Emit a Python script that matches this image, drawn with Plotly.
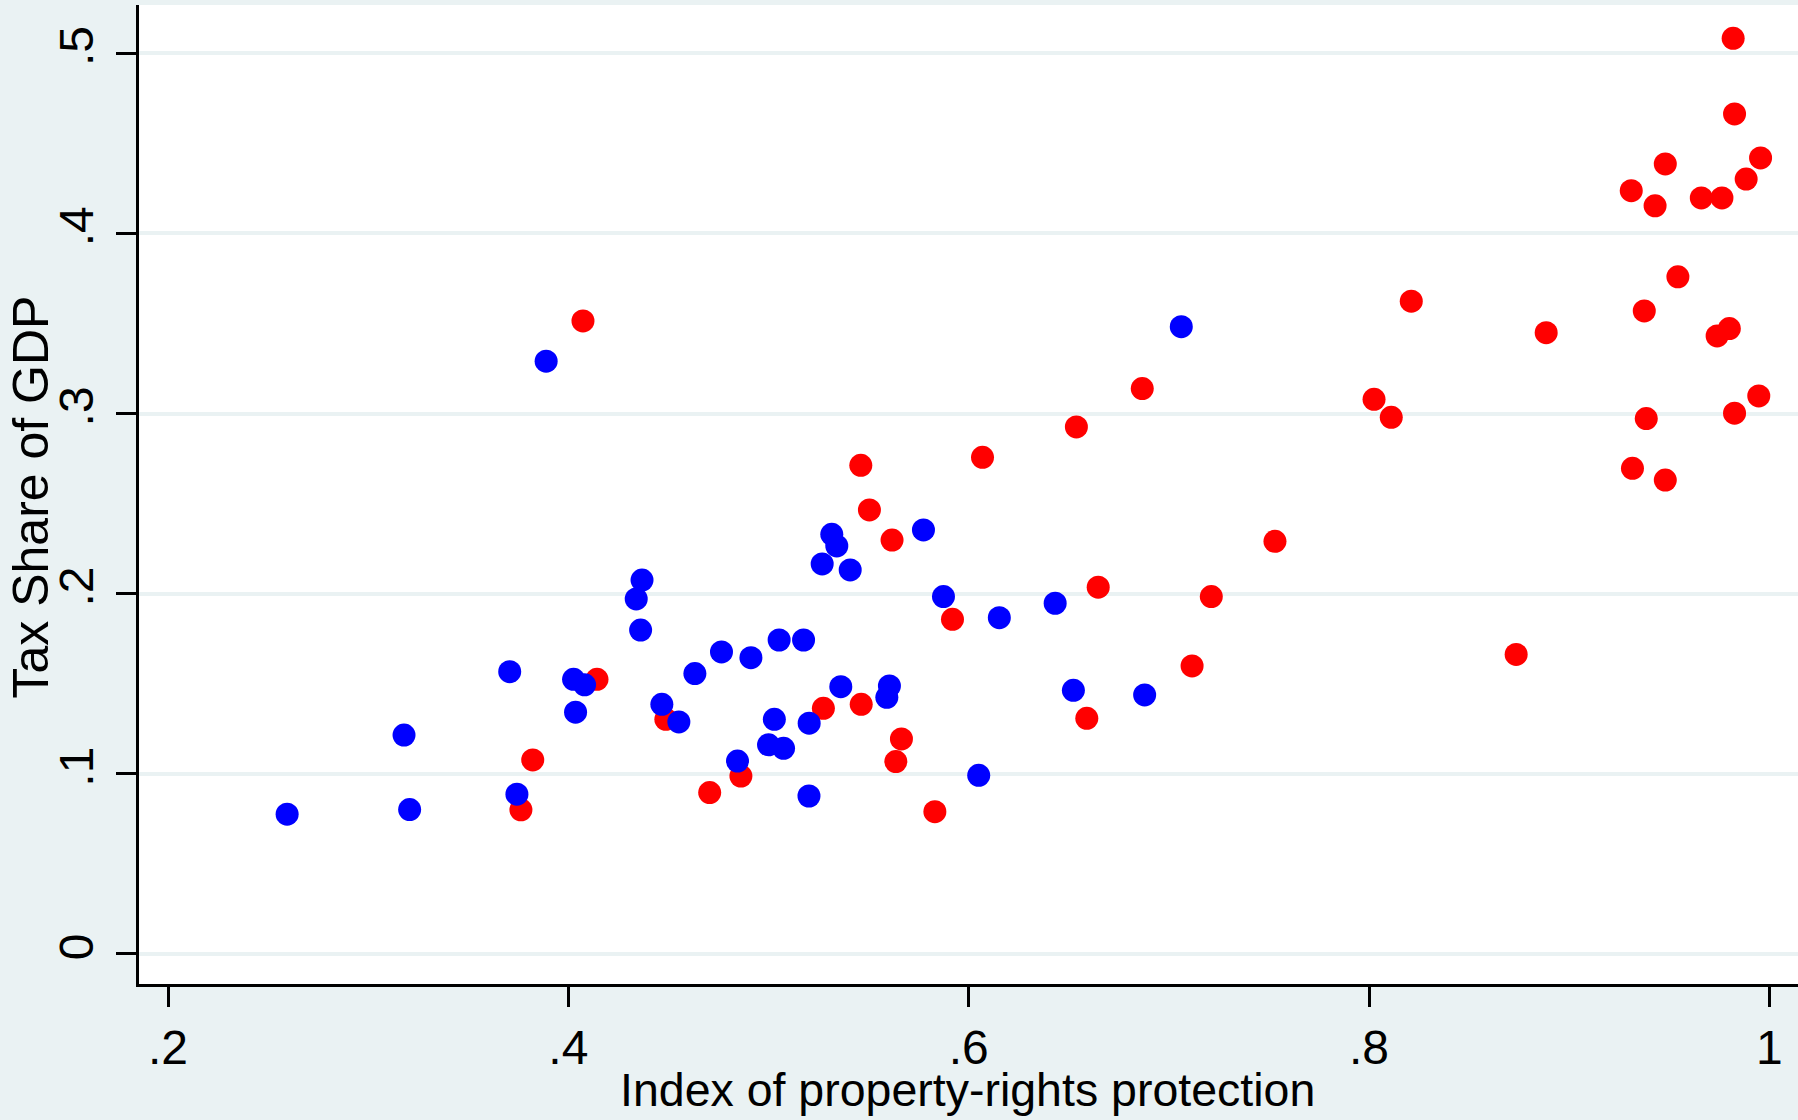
import plotly.graph_objects as go

# Data
blue_x = [0.2595, 0.3179, 0.3207, 0.3707, 0.3743, 0.3889, 0.4026, 0.4036, 0.4081, 0.4339,
          0.4368, 0.4361, 0.4467, 0.4552, 0.4632, 0.4765, 0.4845, 0.4912, 0.5000, 0.5029,
          0.5053, 0.5075, 0.5175, 0.5202, 0.5203, 0.5268, 0.5316, 0.5341, 0.5361, 0.5408,
          0.5591, 0.5604, 0.5774, 0.5874, 0.6050, 0.6153, 0.6432, 0.6523, 0.6879, 0.7062]
blue_y = [0.0776, 0.1215, 0.0802, 0.1567, 0.0887, 0.3291, 0.1525, 0.1342, 0.1494, 0.1971,
          0.2076, 0.1798, 0.1386, 0.1288, 0.1557, 0.1677, 0.1071, 0.1645, 0.1161, 0.1303,
          0.1743, 0.1142, 0.1743, 0.0877, 0.1281, 0.2165, 0.2330, 0.2265, 0.1484, 0.2132,
          0.1425, 0.1488, 0.2354, 0.1984, 0.0992, 0.1867, 0.1947, 0.1464, 0.1438, 0.3482]

red_x = [0.3763, 0.3822, 0.4073, 0.4143, 0.4487, 0.4706, 0.4862, 0.5274, 0.5461, 0.5463,
         0.5504, 0.5617, 0.5636, 0.5664, 0.5831, 0.5919, 0.6069, 0.6538, 0.6590, 0.6647,
         0.6867, 0.7116, 0.7212, 0.7530, 0.8025, 0.8111, 0.8211, 0.8735, 0.8885, 0.9310,
         0.9316, 0.9375, 0.9385, 0.9429, 0.9480, 0.9480, 0.9543, 0.9660, 0.9739, 0.9763,
         0.9800, 0.9819, 0.9826, 0.9826, 0.9884, 0.9947, 0.9956]
red_y = [0.0800, 0.1077, 0.3514, 0.1525, 0.1303, 0.0896, 0.0988, 0.1364, 0.2713, 0.1386,
         0.2465, 0.2298, 0.1068, 0.1194, 0.0790, 0.1858, 0.2757, 0.2926, 0.1308, 0.2036,
         0.3139, 0.1599, 0.1984, 0.2291, 0.3079, 0.2979, 0.3624, 0.1663, 0.3449, 0.4237,
         0.2696, 0.3570, 0.2972, 0.4153, 0.4386, 0.2631, 0.3759, 0.4197, 0.3431, 0.4197,
         0.3472, 0.5083, 0.4663, 0.3002, 0.4302, 0.3098, 0.4419]

x_tickvals = [0.2, 0.4, 0.6, 0.8, 1.0]
x_ticktext = [".2", ".4", ".6", ".8", "1"]
y_tickvals = [0, 0.1, 0.2, 0.3, 0.4, 0.5]
y_ticktext = ["0", ".1", ".2", ".3", ".4", ".5"]

x_title = "Index of property-rights protection"
y_title = "Tax Share of GDP"

BG = "#EAF2F3"
FONT = "Liberation Sans, Arial, Helvetica, sans-serif"

fig = go.Figure()
fig.add_trace(go.Scatter(x=red_x, y=red_y, mode="markers",
                         marker=dict(color="#FF0000", size=23, line=dict(width=0)),
                         showlegend=False, hoverinfo="skip"))
fig.add_trace(go.Scatter(x=blue_x, y=blue_y, mode="markers",
                         marker=dict(color="#0000FF", size=23, line=dict(width=0)),
                         showlegend=False, hoverinfo="skip"))

W, H = 1798, 1120
ml, mr, mt, mb = 139, 0, 5, 136
pw, ph = W - ml - mr, H - mt - mb

fig.update_layout(
    width=W, height=H,
    margin=dict(l=ml, r=mr, t=mt, b=mb, pad=0),
    paper_bgcolor=BG, plot_bgcolor="white",
    font=dict(family=FONT, size=48, color="black"),
    showlegend=False,
    xaxis=dict(range=[0.1855, 1.0143], tickvals=x_tickvals, ticktext=x_ticktext,
               showgrid=False, zeroline=False, showline=True, linecolor="black",
               linewidth=2.5, ticks="outside", ticklen=20, tickwidth=2.5,
               tickcolor="black", tickfont=dict(size=48), ticklabelstandoff=0),
    yaxis=dict(range=[-0.01666, 0.5268], tickvals=y_tickvals, ticktext=y_ticktext,
               showgrid=True, gridcolor=BG, gridwidth=4, zeroline=False,
               showline=True, linecolor="black", linewidth=2.5, ticks="outside",
               ticklen=20, tickwidth=2.5, tickcolor="black", tickangle=-90,
               tickfont=dict(size=48), ticklabelstandoff=4),
)

fig.add_annotation(text=x_title, xref="paper", yref="paper",
                   x=(967 - ml) / pw, y=(H - mb - 1090) / ph,
                   xanchor="center", yanchor="middle", showarrow=False,
                   font=dict(size=46.5, family=FONT, color="black"))
fig.add_annotation(text=y_title, xref="paper", yref="paper",
                   x=(30.5 - ml) / pw, y=(H - mb - 497) / ph,
                   xanchor="center", yanchor="middle", textangle=-90, showarrow=False,
                   font=dict(size=50, family=FONT, color="black"))

fig.write_html("out.html", config={"displayModeBar": False},
               post_script="document.body.style.margin='0';document.body.style.overflow='hidden';")
